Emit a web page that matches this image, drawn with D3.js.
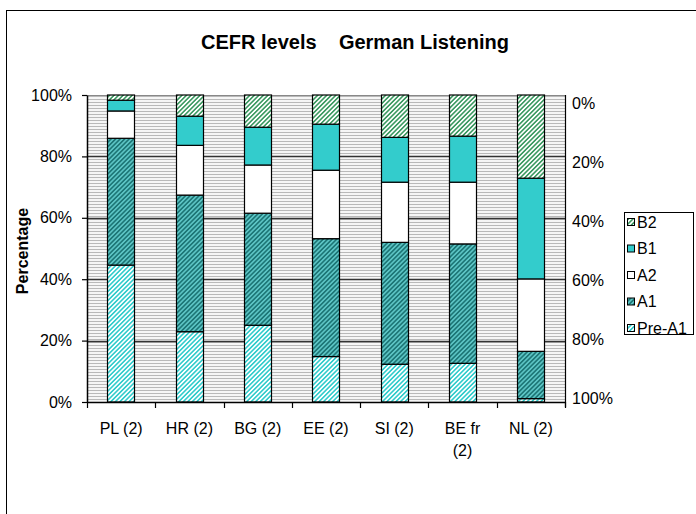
<!DOCTYPE html>
<html><head><meta charset="utf-8">
<script src="https://cdn.jsdelivr.net/npm/d3@7"></script>
<style>body{margin:0;background:#fff}svg{display:block;font-family:"Liberation Sans",Arial,sans-serif}</style>
</head><body><svg id="c" width="696" height="514"></svg>
<script>
const categories = ["PL (2)", "HR (2)", "BG (2)", "EE (2)", "SI (2)", "BE fr (2)", "NL (2)"];
const levels = ["Pre-A1", "A1", "A2", "B1", "B2"];
const preA1 = [44.6, 22.9, 25.0, 14.8, 12.3, 12.6, 1.1];
const a1    = [41.3, 44.5, 36.5, 38.4, 39.7, 38.9, 15.4];
const a2    = [ 8.9, 16.2, 15.7, 22.3, 19.6, 20.1, 23.6];
const b1    = [ 3.5,  9.5, 12.3, 15.0, 14.6, 15.0, 32.8];
const b2    = [ 1.7,  6.9, 10.5,  9.5, 13.8, 13.4, 27.1];
const leftTicks = [0, 20, 40, 60, 80, 100];
const rightTicks = [0, 20, 40, 60, 80, 100];

const seriesVals = {"Pre-A1": preA1, "A1": a1, "A2": a2, "B1": b1, "B2": b2};
const rows = categories.map((c, i) => {
  const r = {cat: c};
  levels.forEach(l => r[l] = seriesVals[l][i]);
  return r;
});

const svg = d3.select("#c");
const defs = svg.append("defs");
function stripe(id, bg, fg, size) {
  const p = defs.append("pattern").attr("id", id).attr("patternUnits", "userSpaceOnUse")
    .attr("width", size).attr("height", size).attr("patternTransform", "rotate(45)");
  p.append("rect").attr("width", size).attr("height", size).attr("fill", bg);
  p.append("rect").attr("width", size / 2).attr("height", size).attr("fill", fg);
}
stripe("pPreA1", "#ffffff", "#33cccc", 3.2);
stripe("pA1", "#5cc4c4", "#1d7676", 3.2);
stripe("pB2", "#ffffff", "#3d9a62", 3.2);
const bgp = defs.append("pattern").attr("id", "pBg").attr("patternUnits", "userSpaceOnUse")
  .attr("width", 4).attr("height", 3);
bgp.append("rect").attr("width", 4).attr("height", 3).attr("fill", "#f6f6f6");
bgp.append("rect").attr("width", 4).attr("height", 1).attr("fill", "#b9b9b9");

const fills = {"Pre-A1": "url(#pPreA1)", "A1": "url(#pA1)", "A2": "#ffffff", "B1": "#33cccc", "B2": "url(#pB2)"};
const FONT = "'Liberation Sans',Arial,sans-serif";

// outer frame
svg.append("rect").attr("x", 6.5).attr("y", 10.5).attr("width", 720).attr("height", 540)
  .attr("fill", "#fff").attr("stroke", "#000").attr("stroke-width", 1);

const L = 87, R = 565, T = 95, B = 402;
const x = d3.scaleBand().domain(categories).range([L, R]).paddingInner(0.6).paddingOuter(0.3);
const y = d3.scaleLinear().domain([0, 100]).range([B, T]);
const yR = d3.scaleLinear().domain([0, 100]).range([103, 398]);

svg.append("rect").attr("x", L).attr("y", T).attr("width", R - L).attr("height", B - T)
  .attr("fill", "url(#pBg)");

// gridlines
svg.append("g").selectAll("line").data(leftTicks.filter(t => t > 0 && t < 100)).join("line")
  .attr("x1", L).attr("x2", R).attr("y1", d => Math.round(y(d)) + 0.5).attr("y2", d => Math.round(y(d)) + 0.5)
  .attr("stroke", "#333").attr("stroke-width", 1.5);
svg.append("line").attr("x1", L).attr("x2", R).attr("y1", T + 0.5).attr("y2", T + 0.5)
  .attr("stroke", "#888").attr("stroke-width", 1);

// bars
const stack = d3.stack().keys(levels)(rows);
const bw = x.bandwidth();
svg.append("g").selectAll("g").data(stack).join("g")
  .attr("fill", d => fills[d.key])
  .selectAll("rect").data(d => d).join("rect")
  .attr("x", d => Math.round(x(d.data.cat)) + 0.5)
  .attr("y", d => y(d[1]))
  .attr("width", Math.round(bw))
  .attr("height", d => y(d[0]) - y(d[1]))
  .attr("stroke", "#000").attr("stroke-width", 1.2);

// left axis
const gl = svg.append("g").attr("transform", `translate(${L},0)`)
  .call(d3.axisLeft(y).tickValues(leftTicks).tickFormat(d => d + "%").tickSize(5).tickSizeOuter(0));
gl.select(".domain").attr("stroke", "#000").attr("stroke-width", 1.5);
gl.selectAll(".tick line").attr("stroke", "#000").attr("stroke-width", 1.2);
gl.selectAll(".tick text").attr("font-size", 16).attr("fill", "#000").attr("x", -15)
  .attr("font-family", FONT);

// bottom axis with boundary ticks
const step = x.step();
const bounds = categories.map(c => x(c) + bw / 2 - step / 2).concat([R]);
svg.append("line").attr("x1", L).attr("x2", R).attr("y1", B + 0.5).attr("y2", B + 0.5)
  .attr("stroke", "#000").attr("stroke-width", 1.5);
svg.append("g").selectAll("line").data(bounds).join("line")
  .attr("x1", d => Math.round(d) + 0.5).attr("x2", d => Math.round(d) + 0.5)
  .attr("y1", B).attr("y2", B + 6).attr("stroke", "#000").attr("stroke-width", 1.2);
const xl = svg.append("g").selectAll("text").data(categories).join("text")
  .attr("text-anchor", "middle").attr("font-size", 16).attr("fill", "#000")
  .attr("x", d => x(d) + bw / 2).attr("y", 434);
xl.each(function(d) {
  const t = d3.select(this);
  if (d === "BE fr (2)") {
    t.append("tspan").attr("x", x(d) + bw / 2).text("BE fr");
    t.append("tspan").attr("x", x(d) + bw / 2).attr("dy", 22).text("(2)");
  } else t.text(d);
});

// right axis
svg.append("line").attr("x1", R + 0.5).attr("x2", R + 0.5).attr("y1", T).attr("y2", B + 5)
  .attr("stroke", "#000").attr("stroke-width", 1.2);
svg.append("g").selectAll("text").data(rightTicks).join("text")
  .attr("x", 572).attr("y", d => yR(d)).attr("dy", "0.35em")
  .attr("font-size", 16).attr("fill", "#000").text(d => d + "%");

// title
svg.append("text").attr("x", 355).attr("y", 49).attr("text-anchor", "middle")
  .attr("font-size", 20).attr("font-weight", "bold").attr("fill", "#000")
  .attr("xml:space", "preserve").text("CEFR levels    German Listening");

// y label
svg.append("text").attr("transform", "translate(28,251) rotate(-90)").attr("text-anchor", "middle")
  .attr("font-size", 16).attr("font-weight", "bold").attr("fill", "#000").text("Percentage");

// legend
const lg = svg.append("g");
lg.append("rect").attr("x", 624.5).attr("y", 212.5).attr("width", 69).attr("height", 122)
  .attr("fill", "#fff").attr("stroke", "#000").attr("stroke-width", 1);
const legOrder = levels.slice().reverse();
const ly = d3.scalePoint().domain(legOrder).range([222, 328]);
const li = lg.selectAll("g.li").data(legOrder).join("g").attr("class", "li");
li.append("rect").attr("x", 627.5).attr("y", d => ly(d) - 3.5).attr("width", 7).attr("height", 7)
  .attr("fill", d => fills[d]).attr("stroke", "#000").attr("stroke-width", 1);
li.append("text").attr("x", 637).attr("y", d => ly(d)).attr("dy", "0.35em")
  .attr("font-size", 16).attr("fill", "#000").text(d => d);
</script></body></html>
